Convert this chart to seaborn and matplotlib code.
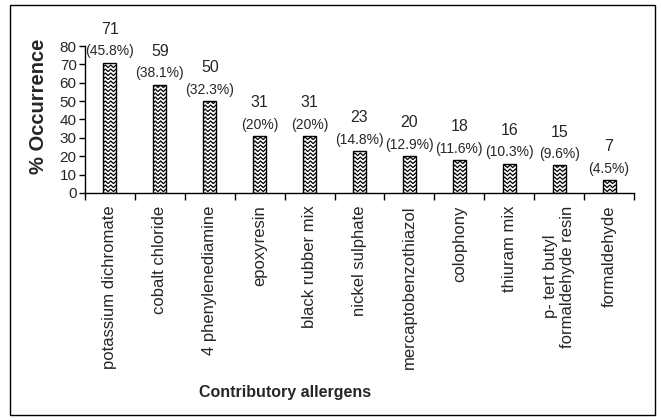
import matplotlib
matplotlib.use("Agg")
import matplotlib.pyplot as plt
import seaborn as sns
import pandas as pd
import numpy as np
from matplotlib.collections import LineCollection
from matplotlib.patches import Rectangle

# Datos de la gráfica
alergenos = ["potassium dichromate", "cobalt chloride", "4 phenylenediamine", "epoxyresin",
             "black rubber mix", "nickel sulphate", "mercaptobenzothiazol", "colophony",
             "thiuram mix", "p- tert butyl\nformaldehyde resin", "formaldehyde"]
casos = [71, 59, 50, 31, 31, 23, 20, 18, 16, 15, 7]
porcentajes = ["45.8%", "38.1%", "32.3%", "20%", "20%", "14.8%", "12.9%", "11.6%", "10.3%", "9.6%", "4.5%"]

sns.set_theme(style="ticks")
plt.rcParams["font.family"] = ["Liberation Sans", "DejaVu Sans"]

df = pd.DataFrame({"alergeno": alergenos, "casos": casos})

fig = plt.figure(figsize=(6.61, 4.2), dpi=100)
ax = fig.add_axes([85 / 661, 1 - 193 / 420, (634 - 85) / 661, (193 - 46) / 420])
sns.barplot(data=df, x="alergeno", y="casos", color="white", edgecolor="black",
            linewidth=1.0, width=0.26, saturation=1, ax=ax)

ax.set_xlim(-0.5, len(alergenos) - 0.5)
ax.set_ylim(0, 80)
ax.set_yticks(range(0, 81, 10))
sns.despine(ax=ax)
for s in ["left", "bottom"]:
    ax.spines[s].set_color("black")
    ax.spines[s].set_linewidth(1.0)

# Etiquetas del eje x: sin marca en el centro, marcas entre categorías
ax.set_xticks(range(len(alergenos)))
ax.set_xticklabels(alergenos, rotation=90, fontsize=12, va="top", ha="center",
                   multialignment="center")
ax.set_xticks(np.arange(-0.5, len(alergenos), 1), minor=True)
ax.tick_params(axis="x", which="major", length=0, pad=9)
ax.tick_params(axis="x", which="minor", length=5, width=1, color="black", direction="out")
ax.tick_params(axis="y", length=4, width=1, color="black", labelsize=11, pad=2)
ax.set_xlabel("")
ax.set_ylabel("% Occurrence", fontsize=14.5, fontweight="bold")
ax.yaxis.set_label_coords(-37 / 549, 0.59)

# Relleno en zigzag dentro de cada barra
fig.canvas.draw()
o = ax.transData.transform((0, 0))
px_x = ax.transData.transform((1, 0))[0] - o[0]
px_y = ax.transData.transform((0, 1))[1] - o[1]
for p in ax.patches:
    x0, w, h = p.get_x(), p.get_width(), p.get_height()
    half = 2.7 / px_x
    amp = 2.6 / px_y
    dy = 4.0 / px_y
    xs = np.arange(x0 - half * 0.3, x0 + w + 2 * half, half)
    segs = []
    yb = -amp
    while yb < h + amp:
        ys = yb + np.where(np.arange(len(xs)) % 2 == 0, 0, amp)
        segs.append(np.column_stack([xs, ys]))
        yb += dy
    lc = LineCollection(segs, colors="black", linewidths=0.9, zorder=p.get_zorder() + 0.1)
    ax.add_collection(lc)
    lc.set_clip_path(p)

# Valores sobre las barras
for i, (c, pc) in enumerate(zip(casos, porcentajes)):
    ax.annotate(str(c), (i, c), xytext=(0, 24), textcoords="offset points",
                ha="center", va="center", fontsize=11.5, annotation_clip=False)
    ax.annotate(f"({pc})", (i, c), xytext=(0, 8), textcoords="offset points",
                ha="center", va="center", fontsize=10, annotation_clip=False)

fig.text(285 / 661, 1 - 393 / 420, "Contributory allergens", ha="center", va="center",
         fontsize=11.5, fontweight="bold")

fig.patches.append(Rectangle((10 / 661, 1 - 415 / 420), 645 / 661, 410 / 420,
                             transform=fig.transFigure, fill=False, edgecolor="black",
                             linewidth=1.0))

fig.savefig("out.png", dpi=100)
